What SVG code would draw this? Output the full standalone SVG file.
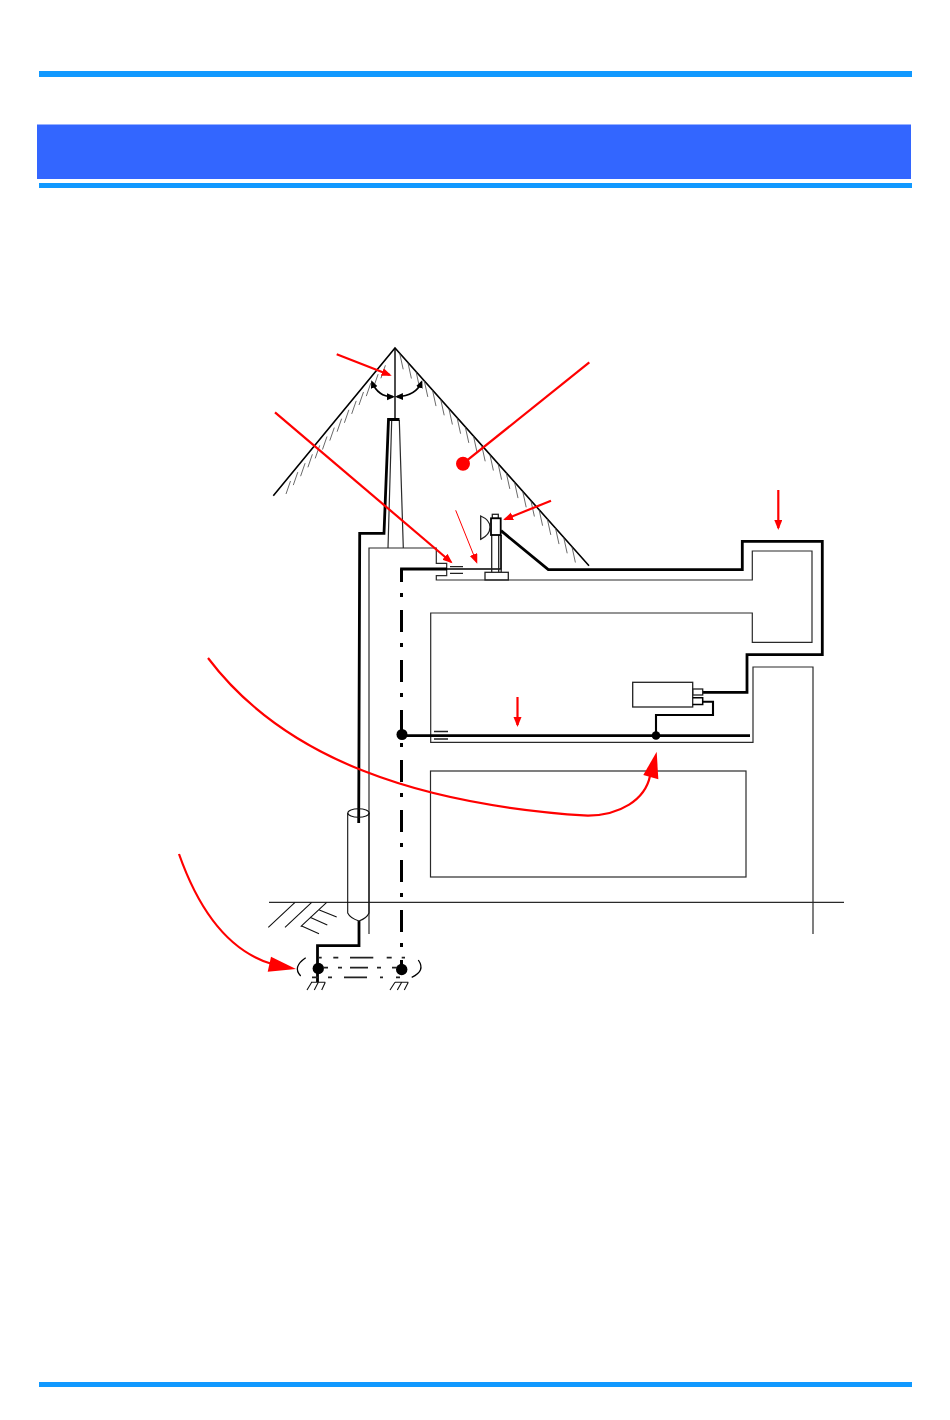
<svg xmlns="http://www.w3.org/2000/svg" width="950" height="1420" viewBox="0 0 950 1420">
<style>
.bar{fill:#1199ff}
.band{fill:#3366ff}
.thin{fill:none;stroke:#2a2a2a;stroke-width:1.2}
.fine{fill:none;stroke:#111;stroke-width:1.1}
.hatch{fill:none;stroke:#444;stroke-width:.8}
.slope{fill:none;stroke:#000;stroke-width:1.6}
.wire{fill:none;stroke:#000;stroke-width:2.8}
.wire2{fill:none;stroke:#000;stroke-width:2.1}
.earth{fill:none;stroke:#000;stroke-width:3}
.eq{fill:none;stroke:#222;stroke-width:1.3}
.dot{fill:#000}
.red{fill:none;stroke:#f00;stroke-width:2.2}
.redthin{fill:none;stroke:#f00;stroke-width:1}
.redfill{fill:#f00}
</style>
<defs>
<marker id="ra" markerUnits="userSpaceOnUse" markerWidth="12" markerHeight="10" refX="8" refY="4" orient="auto"><path d="M0 0L10 4L0 8z" fill="#f00"/></marker>
<marker id="ka" markerUnits="userSpaceOnUse" markerWidth="10" markerHeight="8" refX="6" refY="3.5" orient="auto-start-reverse"><path d="M0 0L8 3.5L0 7z" fill="#000"/></marker>
</defs>

<g id="page-frame">
<rect class="bar" x="39" y="71" width="873" height="6"/>
<rect class="band" x="37" y="124.5" width="874" height="54.5"/>
<rect class="bar" x="39" y="183" width="873" height="5"/>
<rect class="bar" x="39" y="1382" width="873" height="5"/>
</g>

<g id="protection-zone">
<path class="slope" d="M273.3 495.7L395 348L589 565.7"/>
<path class="hatch" d="M286 494l4.5-13m2.8 4.1l4.5-13m2.8 4.1l4.5-13m2.8 4.1l4.5-13m2.8 4.1l4.5-13m2.8 4.1l4.5-13m2.8 4.1l4.5-13m2.8 4.1l4.5-13m2.8 4.1l4.5-13m2.8 4.1l4.5-13m2.8 4.1l4.5-13m2.8 4.1l4.5-13m2.8 4.1l4.5-13m2.8 4.1l4.5-13"/>
<path class="hatch" d="M399.7 353.3l3.5 16m4.7-6.8l3.5 16m4.7-6.8l3.5 16m4.7-6.8l3.5 16m4.7-6.8l3.5 16m4.7-6.8l3.5 16m4.7-6.8l3.5 16m4.7-6.8l3.5 16m4.7-6.8l3.5 16m4.7-6.8l3.5 16m4.7-6.8l3.5 16m4.7-6.8l3.5 16m4.7-6.8l3.5 16m4.7-6.8l3.5 16m4.7-6.8l3.5 16m4.7-6.8l3.5 16m4.7-6.8l3.5 16m4.7-6.8l3.5 16m4.7-6.8l3.5 16m4.7-6.8l3.5 16m4.7-6.8l3.5 16m4.7-6.8l3.5 16"/>
<path class="wire2" style="stroke-width:1.4" d="M395 348V420"/>
<path class="wire2" style="stroke-width:1.8" marker-start="url(#ka)" marker-end="url(#ka)" d="M372 382Q378 397 393 396.7"/>
<path class="wire2" style="stroke-width:1.8" marker-start="url(#ka)" marker-end="url(#ka)" d="M421.5 382Q416 396 397 396.7"/>
</g>

<g id="building">
<path class="thin" d="M369 934V548H436.3V563.3H446.7V575.7H436.3V580H752.3V551H812V642.3H752.3V613H430.7V742.3H753V667H813V934"/>
<rect class="thin" x="430.5" y="771" width="315.5" height="106"/>
<path class="thin" d="M388 548L391.7 420M403.3 548L399.3 420"/>
</g>

<g id="ground">
<path class="thin" d="M269 902.3H844"/>
<path class="fine" d="M295 902.3L268.3 927.3M311.7 902.3L285 927.3M326.7 902.3L300.7 926.7M319.3 910L336.7 917M310 917.3L327.3 925M301.7 926L319 933.7"/>
</g>

<g id="connectors">
<path class="wire" d="M399.5 419.5H388.5L384 533.3H359.7L358.7 823"/>
<path class="wire" d="M359 921V945.7H317.5V982"/>
<path class="wire" d="M501 530.7L548.3 569.7H742.3V541.3H822.3V654.7H747V692.3H702.7"/>
<path class="wire" d="M402 735.7H750"/>
<path class="wire2" d="M702.7 701.7H713V715H656V735.7"/>
<path class="wire" d="M447 569H401.5V581"/>
<path class="earth" stroke-dasharray="22 11 4 13" stroke-dashoffset="9" d="M401.5 569V970"/>
<path class="wire2" style="stroke-width:1.6" d="M447 569H501V535"/>
<path class="eq" d="M450 566.7H463M450 573.3H463M434 731.5H448M434 739H448"/>
</g>

<g id="junctions">
<circle class="dot" cx="402" cy="734.5" r="5.5"/>
<circle class="dot" cx="656" cy="735.5" r="4.3"/>
<circle class="dot" cx="318.3" cy="968.5" r="5.7"/>
<circle class="dot" cx="401.7" cy="969.5" r="5.7"/>
</g>

<g id="downconductor-sleeve">
<ellipse class="fine" cx="358.5" cy="813" rx="10.7" ry="4.2"/>
<path class="fine" d="M347.7 813V913Q350 918 359 921Q367 918 369 913V813"/>
</g>

<g id="earthing">
<path class="eq" style="stroke-width:1.7" d="M318.3 957.7H321.7M333.3 957.7H338.3M350 957.7H373.3M386.7 957.7H391.7M401.7 957.7H405M323 967.7H328M338 967.7H342M350 967.7H368M377 967.7H381M392 967.7H397M312 977.3H318M328 977.3H332M344 977.3H367M380 977.3H383M396 977.3H400"/>
<path class="wire2" style="stroke-width:1.3" d="M305.7 957.7Q292 967 300.7 976M418.3 960Q426 971 411.7 977.3"/>
<path class="fine" d="M311 982.3H325.3M311.7 982.3L307 990M318.3 982.3L314.3 990M325.3 982.3L321.7 990M395 982.3H408.3M395 982.3L390 990M401.7 982.3L397.3 990M408.3 982.3L404.3 990"/>
</g>

<g id="air-terminal-equipment">
<path class="eq" d="M491.7 535V572.3M498.7 535V572.3M501.2 535V572.3"/>
<rect class="eq" x="492.3" y="514.3" width="6" height="4"/>
<rect x="491" y="518.3" width="9.7" height="16.7" fill="#fff" stroke="#000" stroke-width="1.8"/>
<path class="eq" d="M480.7 516Q490 520 490 527Q490 535 480.7 539.3Z"/>
<rect class="eq" x="485" y="572.3" width="23.3" height="7.7"/>
</g>

<g id="receiver">
<rect class="eq" x="632.7" y="682.3" width="60" height="24.7"/>
<rect class="eq" x="692.7" y="689" width="10" height="6"/>
<path fill="none" stroke="#000" stroke-width="1.5" d="M692.7 697.7H702.7V704.5H692.7"/>
</g>

<g id="annotations">
<path class="red" marker-end="url(#ra)" d="M336.7 354.3L389.8 375"/>
<path class="red" marker-end="url(#ra)" d="M275 412.3L451 562"/>
<circle class="redfill" cx="463" cy="463.7" r="7"/>
<path class="red" d="M463 463.7L589.3 362.3"/>
<path class="red" marker-end="url(#ra)" d="M551 500.7L505 519.3"/>
<path class="redthin" marker-end="url(#ra)" d="M455.7 510.3L476.5 562"/>
<path class="red" marker-end="url(#ra)" d="M778.3 490V528"/>
<path class="red" marker-end="url(#ra)" d="M517.5 697V725"/>
<path class="red" d="M208 658C285 760 420 805 588 815.7C620 815 645 800 650 776"/>
<polygon class="redfill" points="656.7,751.7 643.3,775 658.3,779.3"/>
<path class="red" d="M179 854C197 905 225 950 272 964"/>
<polygon class="redfill" points="296,969 271,956.7 267.7,971.7"/>
</g>
</svg>
